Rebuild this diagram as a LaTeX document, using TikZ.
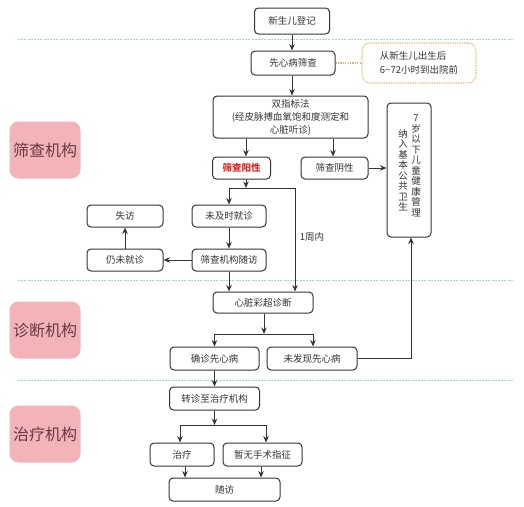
\documentclass[tikz,border=0pt]{standalone}
\usepackage{fontspec}
\setmainfont{Noto Sans CJK SC}
\usepackage{tikz}
\usetikzlibrary{arrows.meta,shapes,calc,positioning}
\definecolor{BoxLine}{HTML}{333333}
\definecolor{SepBlue}{HTML}{9FD4DE}
\definecolor{NoteTan}{HTML}{DDB56E}
\definecolor{TagPink}{HTML}{F2B4B9}
\definecolor{TagText}{HTML}{6A3A40}
\definecolor{PosRed}{HTML}{E02A2A}

\tikzset{
  box/.style={draw=BoxLine, line width=1pt, rounded corners=4pt, inner sep=0pt,
    text=BoxLine, font=\fontsize{9.5}{13}\selectfont, align=center},
  tag/.style={fill=TagPink, rounded corners=9pt, minimum width=71pt, minimum height=57pt,
    text=TagText, font=\fontsize{16}{18}\selectfont},
  sep/.style={SepBlue, line width=0.9pt, dash pattern=on 2pt off 1.2pt},
  note/.style={draw=NoteTan, line width=1.1pt, dash pattern=on 1.2pt off 1.2pt},
  arr/.style={->, BoxLine, line width=1pt},
  ln/.style={BoxLine, line width=1pt},
}

\begin{document}
\begin{tikzpicture}[x=1pt, y=-1pt, >={Stealth[length=6.5pt,width=5.5pt]}]
        \useasboundingbox[fill=white] (0,0) rectangle (524,506);

        % section separators
        \draw[sep] (18,39) -- (514,39);
        \draw[sep] (18,280) -- (514,280);
        \draw[sep] (18,380) -- (514,380);

        % institution tags
        \node[tag] (tagscr) at (45,150) {筛查机构};
        \node[tag] (tagdiag) at (45,330) {诊断机构};
        \node[tag] (tagtreat) at (45,434) {治疗机构};

        % screening
        \node[box, minimum width=75pt, minimum height=26pt] (reg) at (292,21) {新生儿登记};
        \node[box, minimum width=84pt, minimum height=24pt] (scr) at (293,63) {先心病筛查};
        \node[note, rounded corners=8pt, inner sep=0pt,
              minimum width=114pt, minimum height=40pt, text=BoxLine, align=left,
              font=\fontsize{9.5}{14}\selectfont] (tnote) at (419,63) {从新生儿出生后\\6\textasciitilde72小时到出院前};
        \node[box, minimum width=155pt, minimum height=42pt] (dual) at (290.5,117)
              {双指标法\\(经皮脉搏血氧饱和度测定和\\心脏听诊)};
        \node[box, minimum width=44pt, minimum height=134pt] (manage) at (409,170) {};
        \node[text=BoxLine, align=center, font=\fontsize{9.5}{10.5}\selectfont] (manageR) at (416,166)
              {7\\岁\\以\\下\\儿\\童\\健\\康\\管\\理};
        \node[text=BoxLine, align=center, font=\fontsize{9.5}{10.5}\selectfont] (manageL) at (403,170)
              {纳\\入\\基\\本\\公\\共\\卫\\生};
        \node[box, minimum width=58pt, minimum height=22pt, text=PosRed, font=\fontsize{9.5}{13}\selectfont\bfseries]
              (pos) at (241.5,168) {筛查阳性};
        \node[box, minimum width=67pt, minimum height=22pt] (neg) at (334.5,168) {筛查阴性};
        \node[box, minimum width=74pt, minimum height=22pt] (late) at (229,216) {未及时就诊};
        \node[box, minimum width=76pt, minimum height=22pt] (lost) at (125,216) {失访};
        \node[box, minimum width=74pt, minimum height=22pt] (follow) at (229,260) {筛查机构随访};
        \node[box, minimum width=76pt, minimum height=22pt] (still) at (125,260) {仍未就诊};
        \node[text=BoxLine, font=\fontsize{9.5}{11}\selectfont] (week) at (312,237) {1周内};

        % diagnosis
        \node[box, minimum width=100pt, minimum height=21pt] (diag) at (263,302.5) {心脏彩超诊断};
        \node[box, minimum width=89pt, minimum height=23pt] (conf) at (214.5,358.5) {确诊先心病};
        \node[box, minimum width=90pt, minimum height=23pt] (none) at (312,358.5) {未发现先心病};

        % treatment
        \node[box, minimum width=90pt, minimum height=23pt] (transfer) at (214.5,398.5) {转诊至治疗机构};
        \node[box, minimum width=64pt, minimum height=23pt] (treat) at (182,454.5) {治疗};
        \node[box, minimum width=79pt, minimum height=23pt] (nosurg) at (262.5,454.5) {暂无手术指征};
        \node[box, minimum width=111pt, minimum height=23pt] (visit) at (224.5,489.5) {随访};

        % junction points
        \coordinate (jpos) at (246,188);
        \coordinate (jdiag) at (264,334);
        \coordinate (jtreat) at (214.5,425);
        \coordinate (jnone) at (411,358.5);

        % connectors
        \draw[arr] (reg.south) -- (reg.south |- scr.north);
        \draw[arr] (scr.south -| reg) -- (dual.north -| reg);
        \draw[note] (scr.east) -- (tnote.west);
        \draw[arr] (dual.south -| jpos) -- (pos.north -| jpos);
        \draw[arr] (dual.south -| 333,0) -- (neg.north -| 333,0);
        \draw[arr] (neg.east) -- (neg.east -| manage.west);

        \draw[arr] (pos.south -| jpos) -- (jpos);
        \draw[ln] (jpos -| late) -- (jpos -| 295,0);
        \draw[arr] (jpos -| late) -- (late.north);
        \draw[arr] (jpos -| 295,0) -- (diag.north -| 295,0);
        \draw[arr] (late) -- (follow);
        \draw[arr] (follow) -- (still);
        \draw[arr] (still) -- (lost);
        \draw[arr] (follow.south) -- (diag.north -| follow);

        \draw[arr] (diag.south -| jdiag) -- (jdiag);
        \draw[ln] (jdiag -| conf) -- (jdiag -| 313,0);
        \draw[arr] (jdiag -| conf) -- (conf.north);
        \draw[arr] (jdiag -| 313,0) -- (none.north -| 313,0);
        \draw[ln] (none.east) -- (jnone);
        \draw[arr] (jnone) -- (jnone |- manage.south);

        \draw[arr] (conf) -- (transfer);
        \draw[arr] (transfer.south) -- (jtreat);
        \draw[ln] (jtreat -| 180,0) -- (jtreat -| 266,0);
        \draw[arr] (jtreat -| 180,0) -- (treat.north -| 180,0);
        \draw[arr] (jtreat -| 266,0) -- (nosurg.north -| 266,0);
        \draw[arr] (treat.south -| 185,0) -- (visit.north -| 185,0);
        \draw[arr] (nosurg.south -| 261,0) -- (visit.north -| 261,0);
    \end{tikzpicture}
\end{document}
